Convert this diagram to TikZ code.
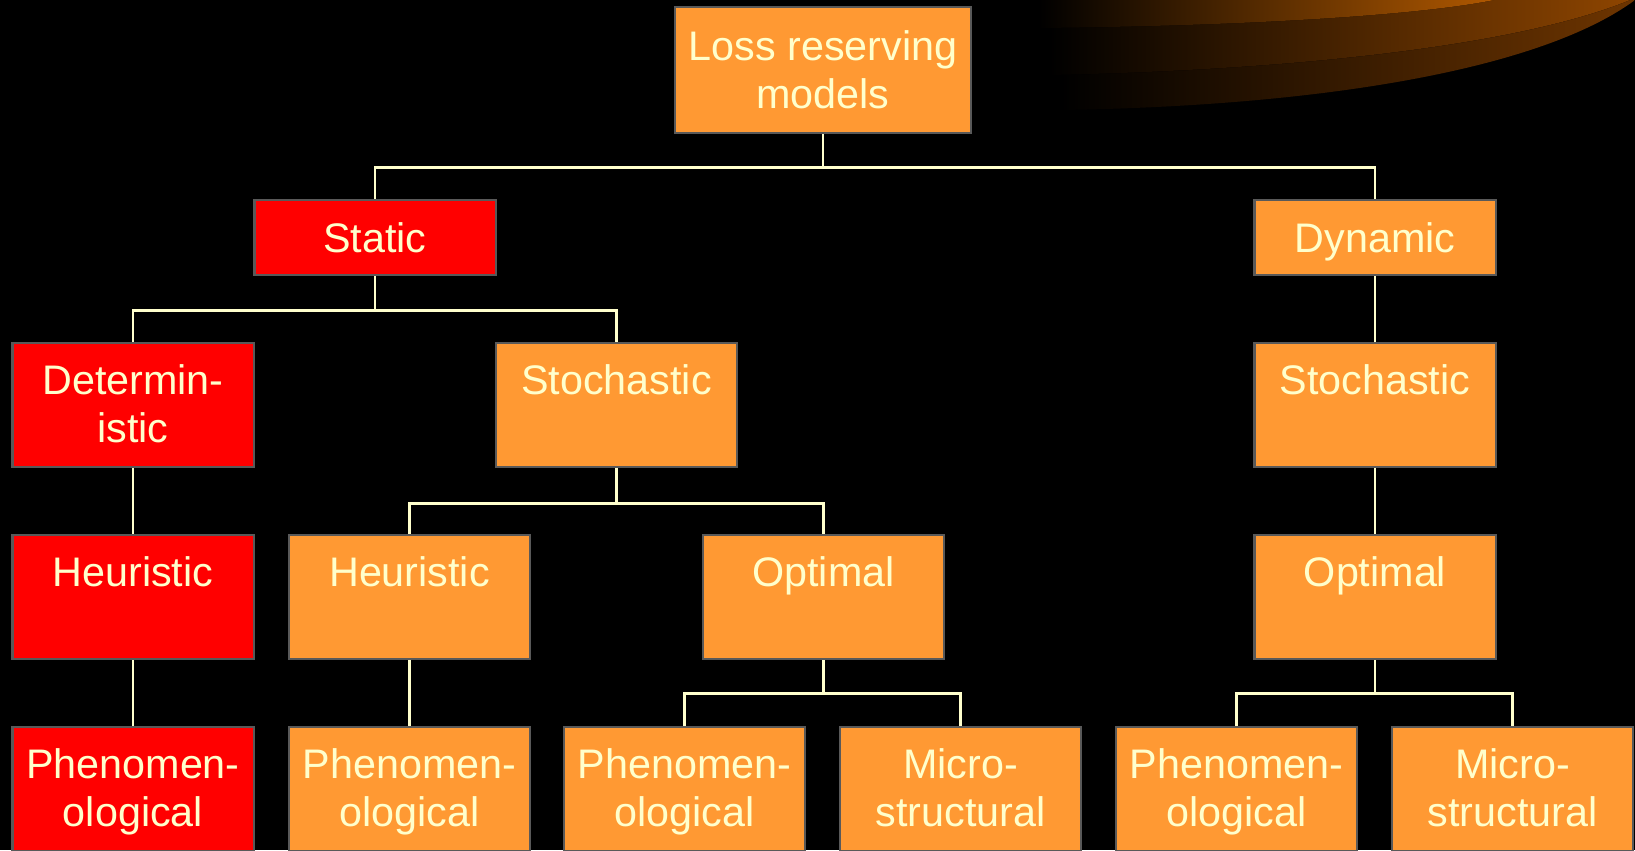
\documentclass[tikz,border=0pt]{standalone}
\usepackage{fontspec}
\setmainfont{Liberation Sans}
\definecolor{boxorange}{HTML}{FF9933}
\definecolor{boxred}{HTML}{FF0000}
\definecolor{boxline}{HTML}{595959}
\definecolor{txt}{HTML}{FFFFCC}
\definecolor{swoosha}{HTML}{B05800}
\definecolor{swooshb}{HTML}{8E4500}
\definecolor{swooshc}{HTML}{6E3500}

\begin{document}
\begin{tikzpicture}[x=0.02cm,y=-0.02cm,
    box/.style={draw=boxline,line width=1.4pt,fill=boxorange,text=txt,align=center,
      minimum width=4.83cm,minimum height=2.48cm,inner sep=0pt,text depth=1.5pt,
      font=\fontsize{23.5}{27.2}\selectfont},
    redbox/.style={box,fill=boxred},
    flat/.style={minimum height=1.5cm,text height=23pt,text depth=6pt},
    link/.style={draw=txt,line width=1.6pt}]
    \useasboundingbox (0,0) rectangle (1635,850);
    \clip (0,0) rectangle (1635,850);
    \fill[black] (0,0) rectangle (1635,850);

    \fill[left color=black,right color=swooshc] (1061,0) -- (1061,110)
      .. controls (1320,106) and (1540,70) .. (1635,0) -- cycle;
    \fill[left color=black,right color=swooshb] (1049,0) -- (1049,75)
      .. controls (1300,70) and (1520,45) .. (1630,0) -- cycle;
    \fill[left color=black,right color=swoosha] (1038,0) -- (1038,28)
      .. controls (1250,26) and (1420,15) .. (1494,0) -- cycle;

    \node[box,minimum width=5.92cm,minimum height=2.52cm,text depth=0.5pt] (root) at (823,70) {Loss reserving\\models};
    \node[redbox,flat] (static) at (375,237.5) {Static};
    \node[box,flat] (dynamic) at (1375,237.5) {Dynamic};
    \node[redbox] (determ) at (133,405) {Determin-\\istic};
    \node[box] (stochS) at (616.5,405) {Stochastic\\\mbox{}};
    \node[box] (stochD) at (1375,405) {Stochastic\\\mbox{}};
    \node[redbox] (heurR) at (133,597) {Heuristic\\\mbox{}};
    \node[box] (heurO) at (409.5,597) {Heuristic\\\mbox{}};
    \node[box] (optS) at (823.5,597) {Optimal\\\mbox{}};
    \node[box] (optD) at (1375,597) {Optimal\\\mbox{}};
    \node[redbox] (phenA) at (133,789) {Phenomen-\\ological};
    \node[box] (phenB) at (409.5,789) {Phenomen-\\ological};
    \node[box] (phenC) at (684.5,789) {Phenomen-\\ological};
    \node[box] (microC) at (960.5,789) {Micro-\\structural};
    \node[box] (phenD) at (1236.5,789) {Phenomen-\\ological};
    \node[box] (microD) at (1512.5,789) {Micro-\\structural};

    \draw[link] (root.south) -- +(0,33) -| (static.north);
    \draw[link] (root.south) -- +(0,33) -| (dynamic.north);
    \draw[link] (static.south) -- +(0,34) -| (determ.north);
    \draw[link] (static.south) -- +(0,34) -| (stochS.north);
    \draw[link] (determ.south) -- (heurR.north);
    \draw[link] (heurR.south) -- (phenA.north);
    \draw[link] (stochS.south) -- +(0,35) -| (heurO.north);
    \draw[link] (stochS.south) -- +(0,35) -| (optS.north);
    \draw[link] (heurO.south) -- (phenB.north);
    \draw[link] (optS.south) -- +(0,33) -| (phenC.north);
    \draw[link] (optS.south) -- +(0,33) -| (microC.north);
    \draw[link] (dynamic.south) -- (stochD.north);
    \draw[link] (stochD.south) -- (optD.north);
    \draw[link] (optD.south) -- +(0,33) -| (phenD.north);
    \draw[link] (optD.south) -- +(0,33) -| (microD.north);
\end{tikzpicture}
\end{document}
